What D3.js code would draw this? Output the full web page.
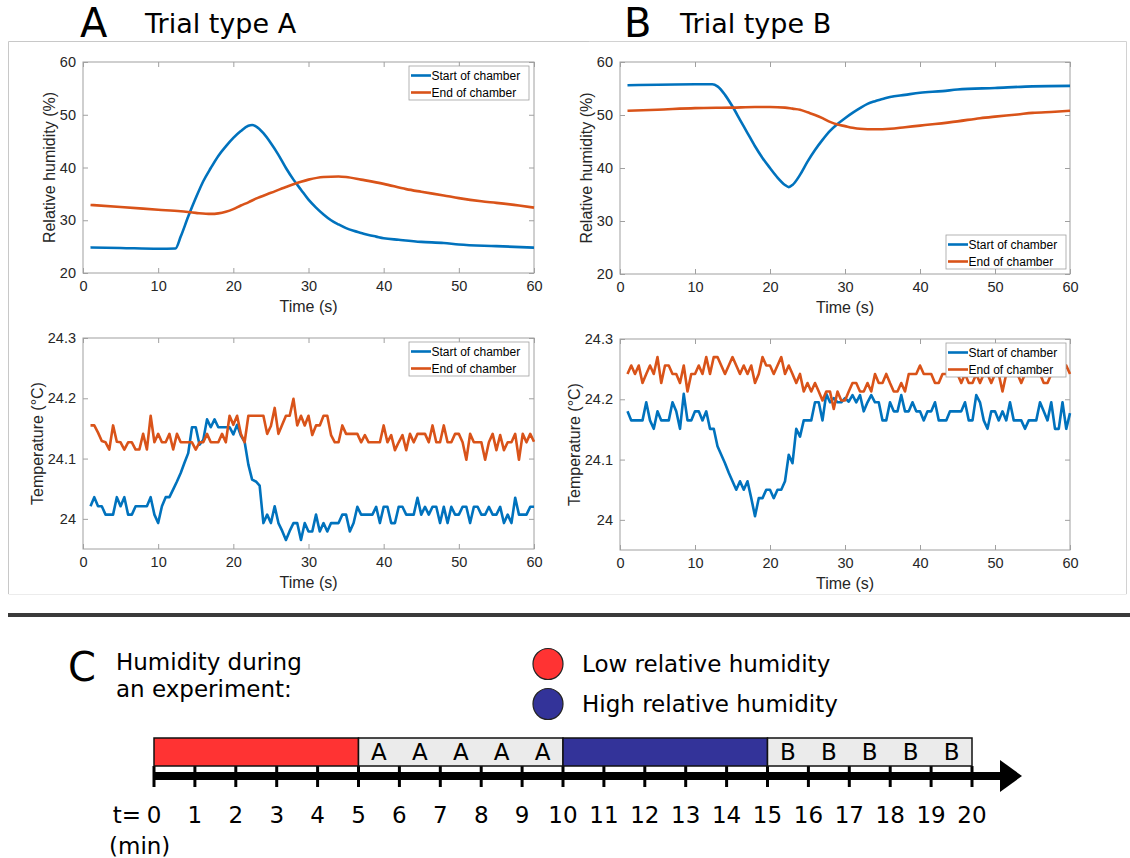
<!DOCTYPE html>
<html>
<head>
<meta charset="utf-8">
<script src="https://cdn.jsdelivr.net/npm/d3@7"></script>
<style>
  body { margin: 0; background: #fff; }
  svg { display: block; }
  .tick text { font-family: "Liberation Sans", Arial, sans-serif; font-size: 14.5px; fill: #262626; }
  .axis-label { font-family: "Liberation Sans", Arial, sans-serif; font-size: 16px; fill: #262626; }
  .legend-text { font-family: "Liberation Sans", Arial, sans-serif; font-size: 12px; fill: #000; }
  .big { font-family: "DejaVu Sans", Verdana, sans-serif; fill: #000; }
</style>
</head>
<body>
<div class="figure"></div>
<script>
// ---- humidity, trial A (s, %)
const humTimeA_start = [1, 5, 10, 12.3, 13, 14, 15, 16, 17, 18, 19, 20, 21, 22, 22.5, 23, 24, 25, 26, 27, 28, 29, 30, 31, 32, 33, 34, 35, 36, 37, 38, 39, 40, 42, 45, 48, 50, 55, 60];
const humA_start = [24.85, 24.75, 24.6, 24.65, 26.9, 30.7, 34.2, 37.4, 39.9, 42.2, 44.0, 45.6, 46.9, 47.9, 48.05, 47.8, 46.5, 44.6, 42.4, 39.9, 37.7, 35.8, 33.9, 32.4, 31.1, 30.0, 29.2, 28.5, 28.0, 27.6, 27.2, 26.9, 26.6, 26.3, 25.9, 25.7, 25.4, 25.1, 24.8];
const humTimeA_end = [1, 5, 10, 13, 15, 17, 18, 19, 20, 21, 22, 23, 25, 27, 29, 30, 32, 34, 35, 37, 40, 43, 45, 48, 50, 53, 55, 58, 60];
const humA_end = [32.9, 32.5, 32.0, 31.7, 31.4, 31.2, 31.3, 31.6, 32.1, 32.8, 33.4, 34.1, 35.2, 36.3, 37.3, 37.7, 38.2, 38.3, 38.2, 37.7, 36.9, 35.9, 35.4, 34.7, 34.2, 33.6, 33.3, 32.8, 32.4];

// ---- humidity, trial B
const humTimeB_start = [1, 10, 12.3, 13, 14, 15, 16, 17, 18, 19, 20, 21, 22, 22.5, 23, 24, 25, 26, 27, 28, 29, 30, 31, 32, 33, 34, 35, 36, 38, 40, 43, 45, 50, 55, 60];
const humB_start = [55.6, 55.8, 55.8, 55.4, 53.8, 51.6, 49.1, 46.6, 44.1, 41.9, 40.0, 38.2, 36.8, 36.4, 36.8, 38.7, 41.2, 43.4, 45.3, 47.0, 48.3, 49.4, 50.4, 51.3, 52.1, 52.6, 53.0, 53.4, 53.8, 54.2, 54.5, 54.8, 55.1, 55.4, 55.5];
const humTimeB_end = [1, 5, 10, 15, 18, 20, 22, 23, 24, 25, 26, 27, 28, 29, 30, 31, 32, 34, 36, 38, 40, 42, 45, 48, 50, 53, 55, 58, 60];
const humB_end = [50.8, 51.0, 51.3, 51.4, 51.5, 51.5, 51.4, 51.2, 51.0, 50.5, 50.0, 49.4, 48.7, 48.2, 47.9, 47.6, 47.4, 47.3, 47.4, 47.7, 48.0, 48.3, 48.8, 49.4, 49.7, 50.1, 50.4, 50.6, 50.8];

// ---- temperature, sampled every 0.5 s from 1 to 60 s (°C)
const tempTime = d3.range(1, 60.01, 0.5);
const tempA_start = [
  24.021,24.036,24.021,24.021,24.007,24.007,24.007,24.036,24.021,24.036,
  24.007,24.007,24.021,24.021,24.021,24.021,24.036,24.007,23.993,24.021,
  24.036,24.036,24.049,24.062,24.076,24.093,24.109,24.152,24.152,24.123,
  24.131,24.165,24.152,24.165,24.152,24.152,24.152,24.152,24.140,24.156,
  24.138,24.128,24.090,24.065,24.062,24.055,23.993,24.007,23.993,24.021,
  23.993,23.980,23.965,23.980,23.993,23.993,23.965,23.993,23.979,23.979,
  24.007,23.979,23.993,23.979,23.993,23.993,23.993,24.007,24.007,23.979,
  23.993,24.020,24.007,24.007,24.007,24.007,24.020,23.993,24.020,24.020,
  23.993,23.993,24.020,24.020,24.007,24.007,24.007,24.035,24.007,24.020,
  24.007,24.020,24.020,23.993,24.020,23.993,24.020,24.007,24.007,24.020,
  24.020,23.993,24.020,24.020,24.007,24.007,24.020,24.007,24.007,24.020,
  23.993,24.007,23.993,24.035,24.007,24.007,24.007,24.020,24.020];
const tempA_end = [
  24.155,24.155,24.143,24.129,24.127,24.115,24.155,24.128,24.127,24.115,
  24.127,24.127,24.115,24.115,24.141,24.115,24.171,24.127,24.141,24.127,
  24.127,24.141,24.115,24.141,24.127,24.127,24.127,24.127,24.115,24.127,
  24.127,24.141,24.127,24.127,24.127,24.141,24.127,24.171,24.156,24.171,
  24.141,24.127,24.171,24.171,24.171,24.171,24.171,24.141,24.154,24.184,
  24.141,24.156,24.171,24.171,24.199,24.155,24.171,24.155,24.171,24.139,
  24.155,24.155,24.171,24.171,24.139,24.127,24.127,24.155,24.141,24.141,
  24.141,24.141,24.127,24.139,24.127,24.127,24.127,24.127,24.155,24.127,
  24.139,24.114,24.127,24.139,24.114,24.141,24.127,24.141,24.141,24.141,
  24.127,24.155,24.127,24.127,24.155,24.127,24.127,24.141,24.141,24.127,
  24.098,24.141,24.127,24.127,24.127,24.098,24.127,24.141,24.114,24.139,
  24.114,24.127,24.127,24.141,24.098,24.141,24.127,24.141,24.128];
const tempB_start = [
  24.180,24.165,24.165,24.165,24.165,24.195,24.165,24.151,24.180,24.165,
  24.165,24.165,24.195,24.180,24.151,24.209,24.165,24.165,24.180,24.180,
  24.165,24.180,24.151,24.151,24.122,24.108,24.094,24.078,24.064,24.050,
  24.064,24.050,24.064,24.036,24.006,24.036,24.036,24.050,24.050,24.036,
  24.050,24.050,24.064,24.108,24.094,24.151,24.138,24.165,24.165,24.165,
  24.195,24.195,24.165,24.209,24.195,24.202,24.195,24.195,24.202,24.196,
  24.207,24.195,24.207,24.180,24.195,24.207,24.195,24.195,24.165,24.165,
  24.195,24.180,24.180,24.207,24.180,24.180,24.195,24.180,24.180,24.165,
  24.180,24.180,24.195,24.165,24.165,24.165,24.180,24.180,24.180,24.180,
  24.195,24.165,24.165,24.207,24.195,24.165,24.151,24.180,24.180,24.165,
  24.180,24.165,24.195,24.165,24.165,24.165,24.151,24.165,24.165,24.165,
  24.195,24.180,24.165,24.195,24.151,24.151,24.195,24.151,24.177];
const tempB_end = [
  24.242,24.256,24.242,24.256,24.227,24.242,24.256,24.242,24.270,24.227,
  24.256,24.256,24.242,24.242,24.227,24.256,24.213,24.242,24.242,24.256,
  24.242,24.270,24.242,24.270,24.270,24.256,24.242,24.256,24.270,24.256,
  24.242,24.256,24.242,24.256,24.227,24.242,24.270,24.256,24.256,24.242,
  24.256,24.270,24.242,24.256,24.242,24.227,24.242,24.213,24.227,24.213,
  24.227,24.213,24.198,24.213,24.213,24.184,24.213,24.198,24.198,24.213,
  24.227,24.227,24.213,24.213,24.227,24.213,24.242,24.227,24.227,24.242,
  24.227,24.213,24.213,24.227,24.213,24.242,24.242,24.242,24.256,24.242,
  24.242,24.242,24.227,24.227,24.242,24.242,24.242,24.242,24.242,24.227,
  24.242,24.227,24.227,24.242,24.227,24.242,24.242,24.227,24.242,24.242,
  24.213,24.242,24.242,24.242,24.242,24.227,24.242,24.242,24.242,24.242,
  24.242,24.227,24.227,24.242,24.242,24.242,24.242,24.256,24.242];

const seriesNames = ["Start of chamber", "End of chamber"];
const seriesColors = ["#0072BD", "#D95319"];
const humTicks = [20, 30, 40, 50, 60];
const tempTicks = [24, 24.1, 24.2, 24.3];
const timeTicks = [0, 10, 20, 30, 40, 50, 60];

// ---- panel C: experiment timeline (minutes)
const blockStart = [0, 5, 10, 15];
const blockEnd = [5, 10, 15, 20];
const blockKind = ["low", "A", "high", "B"];
const minuteTicks = d3.range(0, 21);
const humidityLegend = ["Low relative humidity", "High relative humidity"];

const W = 1130, H = 858;
const svg = d3.select(".figure").append("svg").attr("width", W).attr("height", H);

// frames round the two plot groups
const frame = svg.append("g").attr("fill", "none").attr("stroke-width", 1);
frame.append("path").attr("d", "M8.5,594 V41.5 H589").attr("stroke", "#c8c8c8");
frame.append("path").attr("d", "M589,41.5 H1126.5 V594").attr("stroke", "#d2d2d2");
frame.append("path").attr("d", "M8.5,594.5 H1126.5").attr("stroke", "#ececec");

// panel titles
[["A", 80, "Trial type A", 145], ["B", 624, "Trial type B", 680]].forEach(([letter, lx, title, tx]) => {
  svg.append("text").attr("class", "big").attr("x", lx).attr("y", 37).attr("font-size", 40).text(letter);
  svg.append("text").attr("class", "big").attr("x", tx).attr("y", 33).attr("font-size", 27).text(title);
});

function drawPanel(cfg) {
  const x = d3.scaleLinear().domain([0, 60]).range([cfg.left, cfg.right]);
  const y = d3.scaleLinear().domain(cfg.yDomain).range([cfg.bottom, cfg.top]);
  const g = svg.append("g");

  g.append("rect").attr("x", cfg.left).attr("y", cfg.top)
    .attr("width", cfg.right - cfg.left).attr("height", cfg.bottom - cfg.top)
    .attr("fill", "#fff").attr("stroke", "#a0a0a0").attr("stroke-width", 1);

  const fmt = d => d3.format("~g")(d);
  const styleAxis = sel => {
    sel.select(".domain").remove();
    sel.selectAll(".tick line").attr("stroke", "#a0a0a0");
  };
  g.append("g").attr("transform", `translate(0,${cfg.bottom})`)
    .call(d3.axisBottom(x).tickValues(timeTicks).tickSize(-5).tickPadding(8).tickFormat(fmt))
    .call(styleAxis);
  g.append("g").attr("transform", `translate(0,${cfg.top})`)
    .call(d3.axisTop(x).tickValues(timeTicks).tickSize(-5).tickFormat(""))
    .call(styleAxis);
  g.append("g").attr("transform", `translate(${cfg.left},0)`)
    .call(d3.axisLeft(y).tickValues(cfg.yTicks).tickSize(-5).tickPadding(7).tickFormat(fmt))
    .call(styleAxis);
  g.append("g").attr("transform", `translate(${cfg.right},0)`)
    .call(d3.axisRight(y).tickValues(cfg.yTicks).tickSize(-5).tickFormat(""))
    .call(styleAxis);

  g.append("text").attr("class", "axis-label").attr("text-anchor", "middle")
    .attr("x", (cfg.left + cfg.right) / 2).attr("y", cfg.bottom + 39).text("Time (s)");
  g.append("text").attr("class", "axis-label").attr("text-anchor", "middle")
    .attr("transform", `translate(${cfg.ylabelX},${(cfg.top + cfg.bottom) / 2}) rotate(-90)`)
    .text(cfg.ylabel);

  const line = d3.line().x(d => x(d[0])).y(d => y(d[1]));
  if (cfg.smooth) line.curve(d3.curveMonotoneX);
  cfg.series.forEach((s, i) => {
    g.append("path").datum(d3.zip(s.t, s.v))
      .attr("fill", "none").attr("stroke", seriesColors[i])
      .attr("stroke-width", 2.6).attr("stroke-linejoin", "round")
      .attr("d", line);
  });

  // legend
  const lg = g.append("g").attr("transform", `translate(${cfg.legend[0]},${cfg.legend[1]})`);
  lg.append("rect").attr("width", 120).attr("height", 34)
    .attr("fill", "#fff").attr("stroke", "#a0a0a0").attr("stroke-width", 0.8);
  seriesNames.forEach((name, i) => {
    const yy = 9.5 + i * 17;
    lg.append("line").attr("x1", 2).attr("x2", 22).attr("y1", yy).attr("y2", yy)
      .attr("stroke", seriesColors[i]).attr("stroke-width", 2.6);
    lg.append("text").attr("class", "legend-text").attr("x", 22.5).attr("y", yy + 4.3).text(name);
  });
}

drawPanel({ left: 83, right: 534, top: 62, bottom: 273, yDomain: [20, 60], yTicks: humTicks,
  ylabel: "Relative humidity (%)", ylabelX: 55, smooth: true, legend: [409, 66],
  series: [{ t: humTimeA_start, v: humA_start }, { t: humTimeA_end, v: humA_end }] });
drawPanel({ left: 620, right: 1070, top: 62, bottom: 274, yDomain: [20, 60], yTicks: humTicks,
  ylabel: "Relative humidity (%)", ylabelX: 592, smooth: true, legend: [946, 235],
  series: [{ t: humTimeB_start, v: humB_start }, { t: humTimeB_end, v: humB_end }] });
drawPanel({ left: 83, right: 534, top: 338, bottom: 549, yDomain: [23.95, 24.3], yTicks: tempTicks,
  ylabel: "Temperature (°C)", ylabelX: 43, smooth: false, legend: [409, 342],
  series: [{ t: tempTime, v: tempA_start }, { t: tempTime, v: tempA_end }] });
drawPanel({ left: 620, right: 1070, top: 339, bottom: 550, yDomain: [23.95, 24.3], yTicks: tempTicks,
  ylabel: "Temperature (°C)", ylabelX: 580, smooth: false, legend: [946, 343],
  series: [{ t: tempTime, v: tempB_start }, { t: tempTime, v: tempB_end }] });

// separator
svg.append("line").attr("x1", 8).attr("x2", W).attr("y1", 615).attr("y2", 615)
  .attr("stroke", "#3a3a3a").attr("stroke-width", 4);

// ---- panel C
const cSize = 23;
svg.append("text").attr("class", "big").attr("x", 68).attr("y", 681).attr("font-size", 40).text("C");
svg.append("text").attr("class", "big").attr("x", 116).attr("y", 670).attr("font-size", cSize).text("Humidity during");
svg.append("text").attr("class", "big").attr("x", 116).attr("y", 697).attr("font-size", cSize).text("an experiment:");

const kindFill = { low: "#ff3333", high: "#333399", A: "#ebebeb", B: "#ebebeb" };
humidityLegend.forEach((label, i) => {
  const cy = 664 + i * 40;
  svg.append("ellipse").attr("cx", 548).attr("cy", cy).attr("rx", 15).attr("ry", 15.5)
    .attr("fill", i === 0 ? kindFill.low : kindFill.high).attr("stroke", "#222").attr("stroke-width", 1.2);
  svg.append("text").attr("class", "big").attr("x", 582).attr("y", cy + 8).attr("font-size", cSize).text(label);
});

const tx = d3.scaleLinear().domain([0, 20]).range([154, 972]);
const barTop = 738, barH = 28;

// axis arrow
svg.append("line").attr("x1", tx(0)).attr("x2", 1002).attr("y1", 776).attr("y2", 776)
  .attr("stroke", "#000").attr("stroke-width", 8);
svg.append("path").attr("d", "M1000,760 L1022,776 L1000,792 Z").attr("fill", "#000");
svg.selectAll(".mtick").data(minuteTicks).join("line").attr("class", "mtick")
  .attr("x1", d => tx(d)).attr("x2", d => tx(d)).attr("y1", barTop + barH).attr("y2", 787)
  .attr("stroke", "#000").attr("stroke-width", 3);

// humidity blocks
blockStart.forEach((s, i) => {
  svg.append("rect").attr("x", tx(s)).attr("y", barTop)
    .attr("width", tx(blockEnd[i]) - tx(s)).attr("height", barH)
    .attr("fill", kindFill[blockKind[i]]).attr("stroke", "#111").attr("stroke-width", 1.5);
  if (blockKind[i] === "A" || blockKind[i] === "B") {
    d3.range(s, blockEnd[i]).forEach(m => {
      svg.append("text").attr("class", "big").attr("x", tx(m + 0.5)).attr("y", barTop + 22)
        .attr("text-anchor", "middle").attr("font-size", cSize).text(blockKind[i]);
    });
  }
});

// minute labels
svg.selectAll(".mlab").data(minuteTicks).join("text").attr("class", "big mlab")
  .attr("x", d => tx(d)).attr("y", 823).attr("text-anchor", "middle").attr("font-size", cSize)
  .text(d => d);
svg.append("text").attr("class", "big").attr("x", 141).attr("y", 823).attr("text-anchor", "end")
  .attr("font-size", cSize).text("t=");
svg.append("text").attr("class", "big").attr("x", 109).attr("y", 854).attr("font-size", cSize).text("(min)");
</script>
</body>
</html>
